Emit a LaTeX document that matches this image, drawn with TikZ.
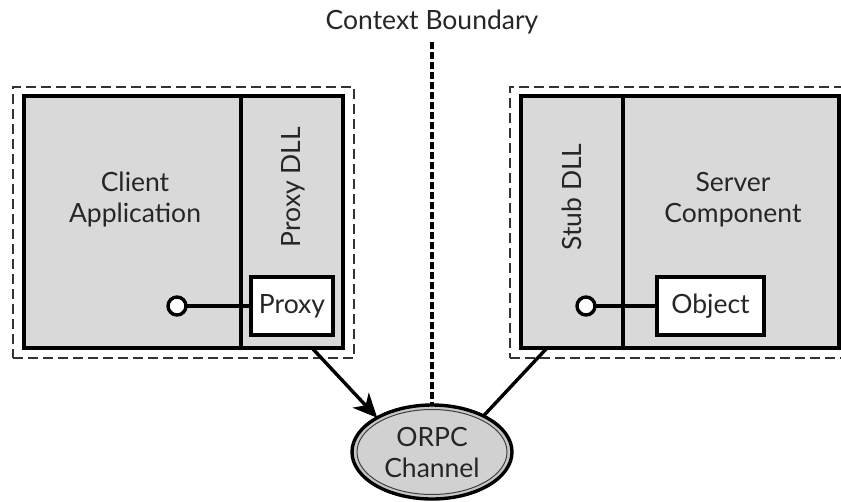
\documentclass[tikz,border=0pt]{standalone}
\usepackage{fontspec}
\setmainfont{Lato}
\usetikzlibrary{arrows.meta,shapes.geometric}
\definecolor{boxgray}{HTML}{D9D9D9}
\tikzset{
  panel/.style={draw=black, line width=3.4pt, fill=boxgray, inner sep=0pt, outer sep=0pt, rectangle},
  whitebox/.style={draw=black, line width=3.4pt, fill=white, inner sep=0pt, outer sep=0pt, rectangle, font=\fontsize{26.5}{30}\selectfont, text=black!85},
  boundary/.style={draw=black!80, line width=2.6pt, dash pattern=on 10pt off 5pt, inner sep=0pt, outer sep=0pt, rectangle},
  lbl/.style={font=\fontsize{26.5}{31}\selectfont, align=center, text=black!85, inner sep=0pt},
  iface/.style={circle, draw=black, line width=3.4pt, fill=white, minimum size=18pt, inner sep=0pt, outer sep=0pt},
  conn/.style={line width=3.4pt, draw=black},
}
\begin{document}
\begin{tikzpicture}[x=1pt,y=-1pt]
\useasboundingbox (0,0) rectangle (841,501);
% boundary dashed boxes
\node[boundary, minimum width=341pt, minimum height=271pt] (lbound) at (183.5,222.5) {};
\node[boundary, minimum width=339pt, minimum height=271pt] (rbound) at (679.5,222.5) {};
% left side
\node[panel, minimum width=217pt, minimum height=252pt] (client) at (132.5,222) {};
\node[panel, minimum width=102pt, minimum height=252pt] (proxydll) at (292,222) {};
\node[lbl] (clienttxt) at (135,200) {Client\\Application};
\node[lbl, rotate=90] (proxydlltxt) at (293,187) {Proxy DLL};
\node[whitebox, minimum width=82pt, minimum height=58pt] (proxy) at (292,306) {Proxy};
\node[iface] (pif) at (177,306) {};
\draw[conn] (pif) -- (proxy);
% right side
\node[panel, minimum width=102pt, minimum height=252pt] (stubdll) at (572,222) {};
\node[panel, minimum width=216pt, minimum height=252pt] (server) at (731,222) {};
\node[lbl] (servertxt) at (733,200) {Server\\Component};
\node[lbl, rotate=90] (stubdlltxt) at (572,197) {Stub DLL};
\node[whitebox, minimum width=107pt, minimum height=58pt] (object) at (710.5,306) {Object};
\node[iface] (oif) at (586,306) {};
\draw[conn] (oif) -- (object);
% context boundary
\node[lbl] (cbtxt) at (432,22) {Context Boundary};
\node[ellipse, draw=black, line width=3.4pt, fill=black!22, minimum width=160pt, minimum height=94pt, inner sep=0pt, outer sep=0pt] (orpc) at (432,452) {};
\node[ellipse, draw=black!75, line width=1pt, fill=black!18, minimum width=150pt, minimum height=85pt, inner sep=0pt] (orpcin) at (432,452) {};
\node[lbl] (orpctxt) at (432,452) {ORPC\\Channel};
\coordinate (cbtop) at (432,42);
\draw[line width=3.2pt, dash pattern=on 7pt off 3pt] (cbtop) -- (orpc.north);
% connectors
\coordinate (lstart) at (312,348);
\coordinate (rstart) at (547,348);
\draw[conn, -{Stealth[length=24pt,width=22pt,inset=7pt]}] (lstart) -- (orpc.148);
\draw[conn] (rstart) -- (orpc.35);
\end{tikzpicture}
\end{document}
